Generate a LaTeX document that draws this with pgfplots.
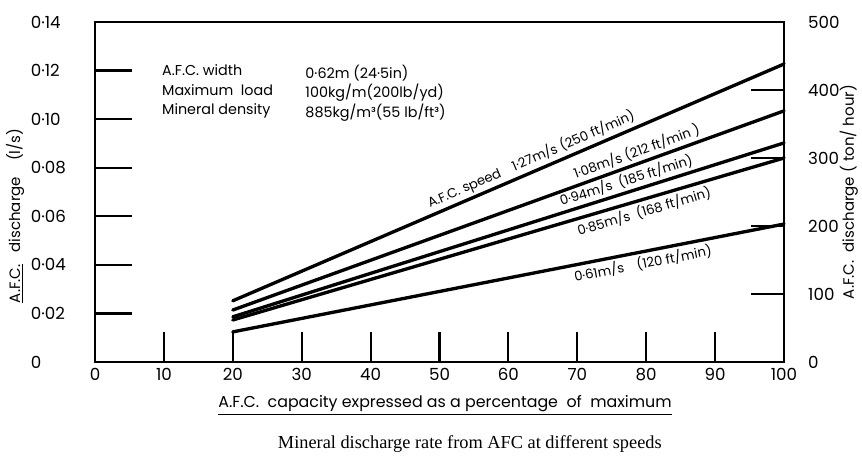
\documentclass[border=0pt]{standalone}
\usepackage{fontspec}
\setmainfont{Poppins}
\newfontfamily\capfont{Liberation Serif}
\usepackage{pgfplots}
\pgfplotsset{compat=1.18}

\begin{document}
\begin{tikzpicture}
\pgfplotsset{
  frame/.style={
    scale only axis, width=413.4pt, height=204pt,
    at={(0,0)}, anchor=south west,
    xmin=0, xmax=100,
    axis line style={line width=1.5pt},
    tick align=inside,
    every tick/.style={black, line width=1.3pt},
    tick label style={font=\fontsize{10}{12}\selectfont},
    label style={font=\fontsize{9}{11}\selectfont},
    clip=false,
  },
  speed/.style={black, line width=2pt, line cap=round},
}
\tikzset{tag/.style={font=\fontsize{7.9}{9}\selectfont, inner sep=1.6pt}}
% frame, x ticks and the discharge lines (l/s)
\begin{axis}[frame, ymin=0, ymax=0.14,
  xtick={0,10,...,100},
  xticklabels={0,10,20,30,40,50,60,70,80,90,100},
  xtick pos=left, major tick length=18pt, ytick=\empty,
  xlabel={\underline{A.F.C.\ \ capacity\ expressed\ as\ a\ percentage\ \ of\ \ maximum}},
  xlabel style={at={(axis description cs:0.508,-0.127)}, anchor=center, font=\fontsize{9.5}{11}\selectfont},
]
\addplot[speed] coordinates {(20,0.0252) (100,0.1227)}
  node[tag, pos=0.55, sloped, above] {A.F.C.\ speed\quad 1·27m/s (250 ft/min)};
\addplot[speed] coordinates {(20,0.0214) (100,0.1034)}
  node[tag, pos=0.74, sloped, above] {1·08m/s (212 ft/min\ )};
\addplot[speed] coordinates {(20,0.0186) (100,0.0902)}
  node[tag, pos=0.72, sloped, above] {0·94m/s\ \ (185 ft/min)};
\addplot[speed] coordinates {(20,0.0173) (100,0.0840)}
  node[tag, pos=0.74, sloped, below] {0·85m/s\ \ (168 ft/min)};
\addplot[speed] coordinates {(20,0.0124) (100,0.0568)}
  node[tag, pos=0.74, sloped, below] {0·61m/s\quad (120 ft/min)};

\node[anchor=north west, align=left, inner sep=0pt, font=\fontsize{8.6}{11.7}\selectfont]
  at (rel axis cs:0.097,0.875) {A.F.C.\ width\\Maximum\ \ load\\Mineral density};
\node[anchor=north west, align=left, inner sep=0pt, font=\fontsize{8.6}{11.7}\selectfont]
  at (rel axis cs:0.305,0.875) {0·62m (24·5in)\\100kg/m(200lb/yd)\\885kg/m³(55 lb/ft³)};

\node[font=\capfont\fontsize{11}{13}\selectfont] at (axis description cs:0.544,-0.24)
  {Mineral discharge rate from AFC at different speeds};
\end{axis}

% left scale, l/s
\begin{axis}[frame, hide x axis, ymin=0, ymax=0.14,
  ytick={0,0.02,0.04,0.06,0.08,0.10,0.12,0.14},
  yticklabels={0,0·02,0·04,0·06,0·08,0·10,0·12,0·14},
  ytick pos=left, major tick length=22pt,
  yticklabel style={anchor=west, xshift=-42pt},
  ylabel={\underline{A.F.C.}\ \ \ discharge\ \ \ \ (l/s)},
  ylabel style={at={(axis description cs:-0.116,0.43)}, anchor=center},
]
\end{axis}

% right scale, ton/hour
\begin{axis}[frame, hide x axis, ymin=0, ymax=500,
  ytick={0,100,200,300,400,500},
  yticklabels={0,100,200,300,400,500},
  ytick pos=right, yticklabel pos=right, major tick length=20pt,
  yticklabel style={anchor=west, xshift=11pt},
  ylabel={A.F.C.\ \ discharge\ ( ton/ hour)},
  ylabel style={at={(axis description cs:1.094,0.5)}, anchor=center},
]
\end{axis}

% page area
\pgfresetboundingbox
\path[use as bounding box] (-57pt,-62.4pt) rectangle (460.2pt,217.2pt);
\end{tikzpicture}
\end{document}
